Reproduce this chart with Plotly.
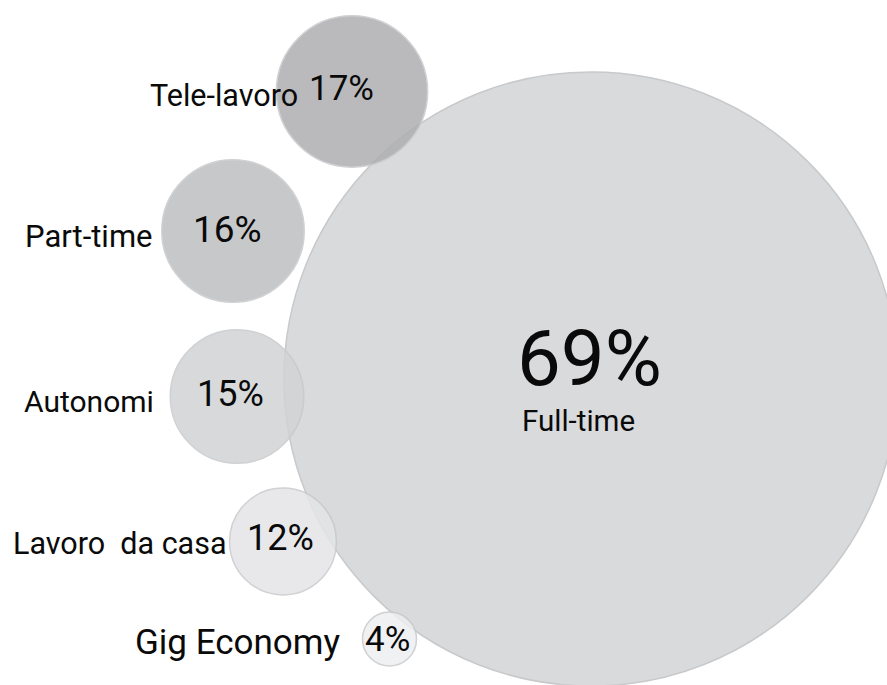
import plotly.graph_objects as go

# Work-arrangement shares (percent)
categories = ["Full-time", "Tele-lavoro", "Part-time", "Autonomi", "Lavoro\u00a0 da casa", "Gig Economy"]
values = [69, 17, 16, 15, 12, 4]

# Bubble layout (plot coordinates == screen pixels)
W, H = 887, 685
cx = [591, 352, 233, 237, 283, 389.5]
cy = [379, 91.5, 231, 396.5, 541.5, 639]
fills = [
    "rgb(217,218,220)",
    "rgb(174,175,177)",
    "rgb(190,191,193)",
    "rgb(210,211,213)",
    "rgb(228,229,231)",
    "rgb(238,239,240)",
]
opac = [1.0, 0.85, 0.85, 0.85, 0.85, 0.85]
PX_PER_PCT = 8.9  # bubble diameter per percentage point
MIN_RADIUS = 27   # smallest bubbles are kept legible

fig = go.Figure()
for i, v in enumerate(values):
    fig.add_trace(go.Scatter(
        x=[cx[i]], y=[cy[i]], mode="markers",
        marker=dict(
            size=[v], sizemode="diameter", sizeref=1 / PX_PER_PCT, sizemin=MIN_RADIUS,
            color=fills[i], opacity=opac[i],
            line=dict(color="rgb(200,201,203)", width=1.5),
        ),
        hoverinfo="skip", showlegend=False,
    ))

FONT = "Roboto"
# percentage labels: offset from bubble centre, font size
num_dx = [-1.5, -10.5, -6, -7, -3, -2.5]
num_dy = [-21, -3, -2, -3, -4, 0]
num_size = [78, 35, 37, 36, 36, 35]
# category labels: right edge / centre position
lab_x = [578, 300, 155, 156, 229, 343]
lab_y = [421, 95, 236, 401, 543.5, 642]
lab_size = [29.5, 30.5, 31, 30, 30.5, 35]
lab_anchor = ["center", "right", "right", "right", "right", "right"]

ann = []
for i, v in enumerate(values):
    ann.append(dict(
        x=cx[i] + num_dx[i], y=cy[i] + num_dy[i], xref="x", yref="y",
        text=f"{v}%", showarrow=False, xanchor="center", yanchor="middle",
        font=dict(family=FONT, size=num_size[i], color="#0a0a0a"),
    ))
    ann.append(dict(
        x=lab_x[i], y=lab_y[i], xref="x", yref="y",
        text=categories[i], showarrow=False, xanchor=lab_anchor[i], yanchor="middle",
        font=dict(family=FONT, size=lab_size[i], color="#0a0a0a"),
    ))

fig.update_layout(
    width=W, height=H,
    margin=dict(l=0, r=0, t=0, b=0),
    paper_bgcolor="white", plot_bgcolor="white",
    xaxis=dict(range=[0, W], visible=False, fixedrange=True),
    yaxis=dict(range=[H, 0], visible=False, fixedrange=True),
    annotations=ann,
)

fig.write_html("out.html", config={"displayModeBar": False})
